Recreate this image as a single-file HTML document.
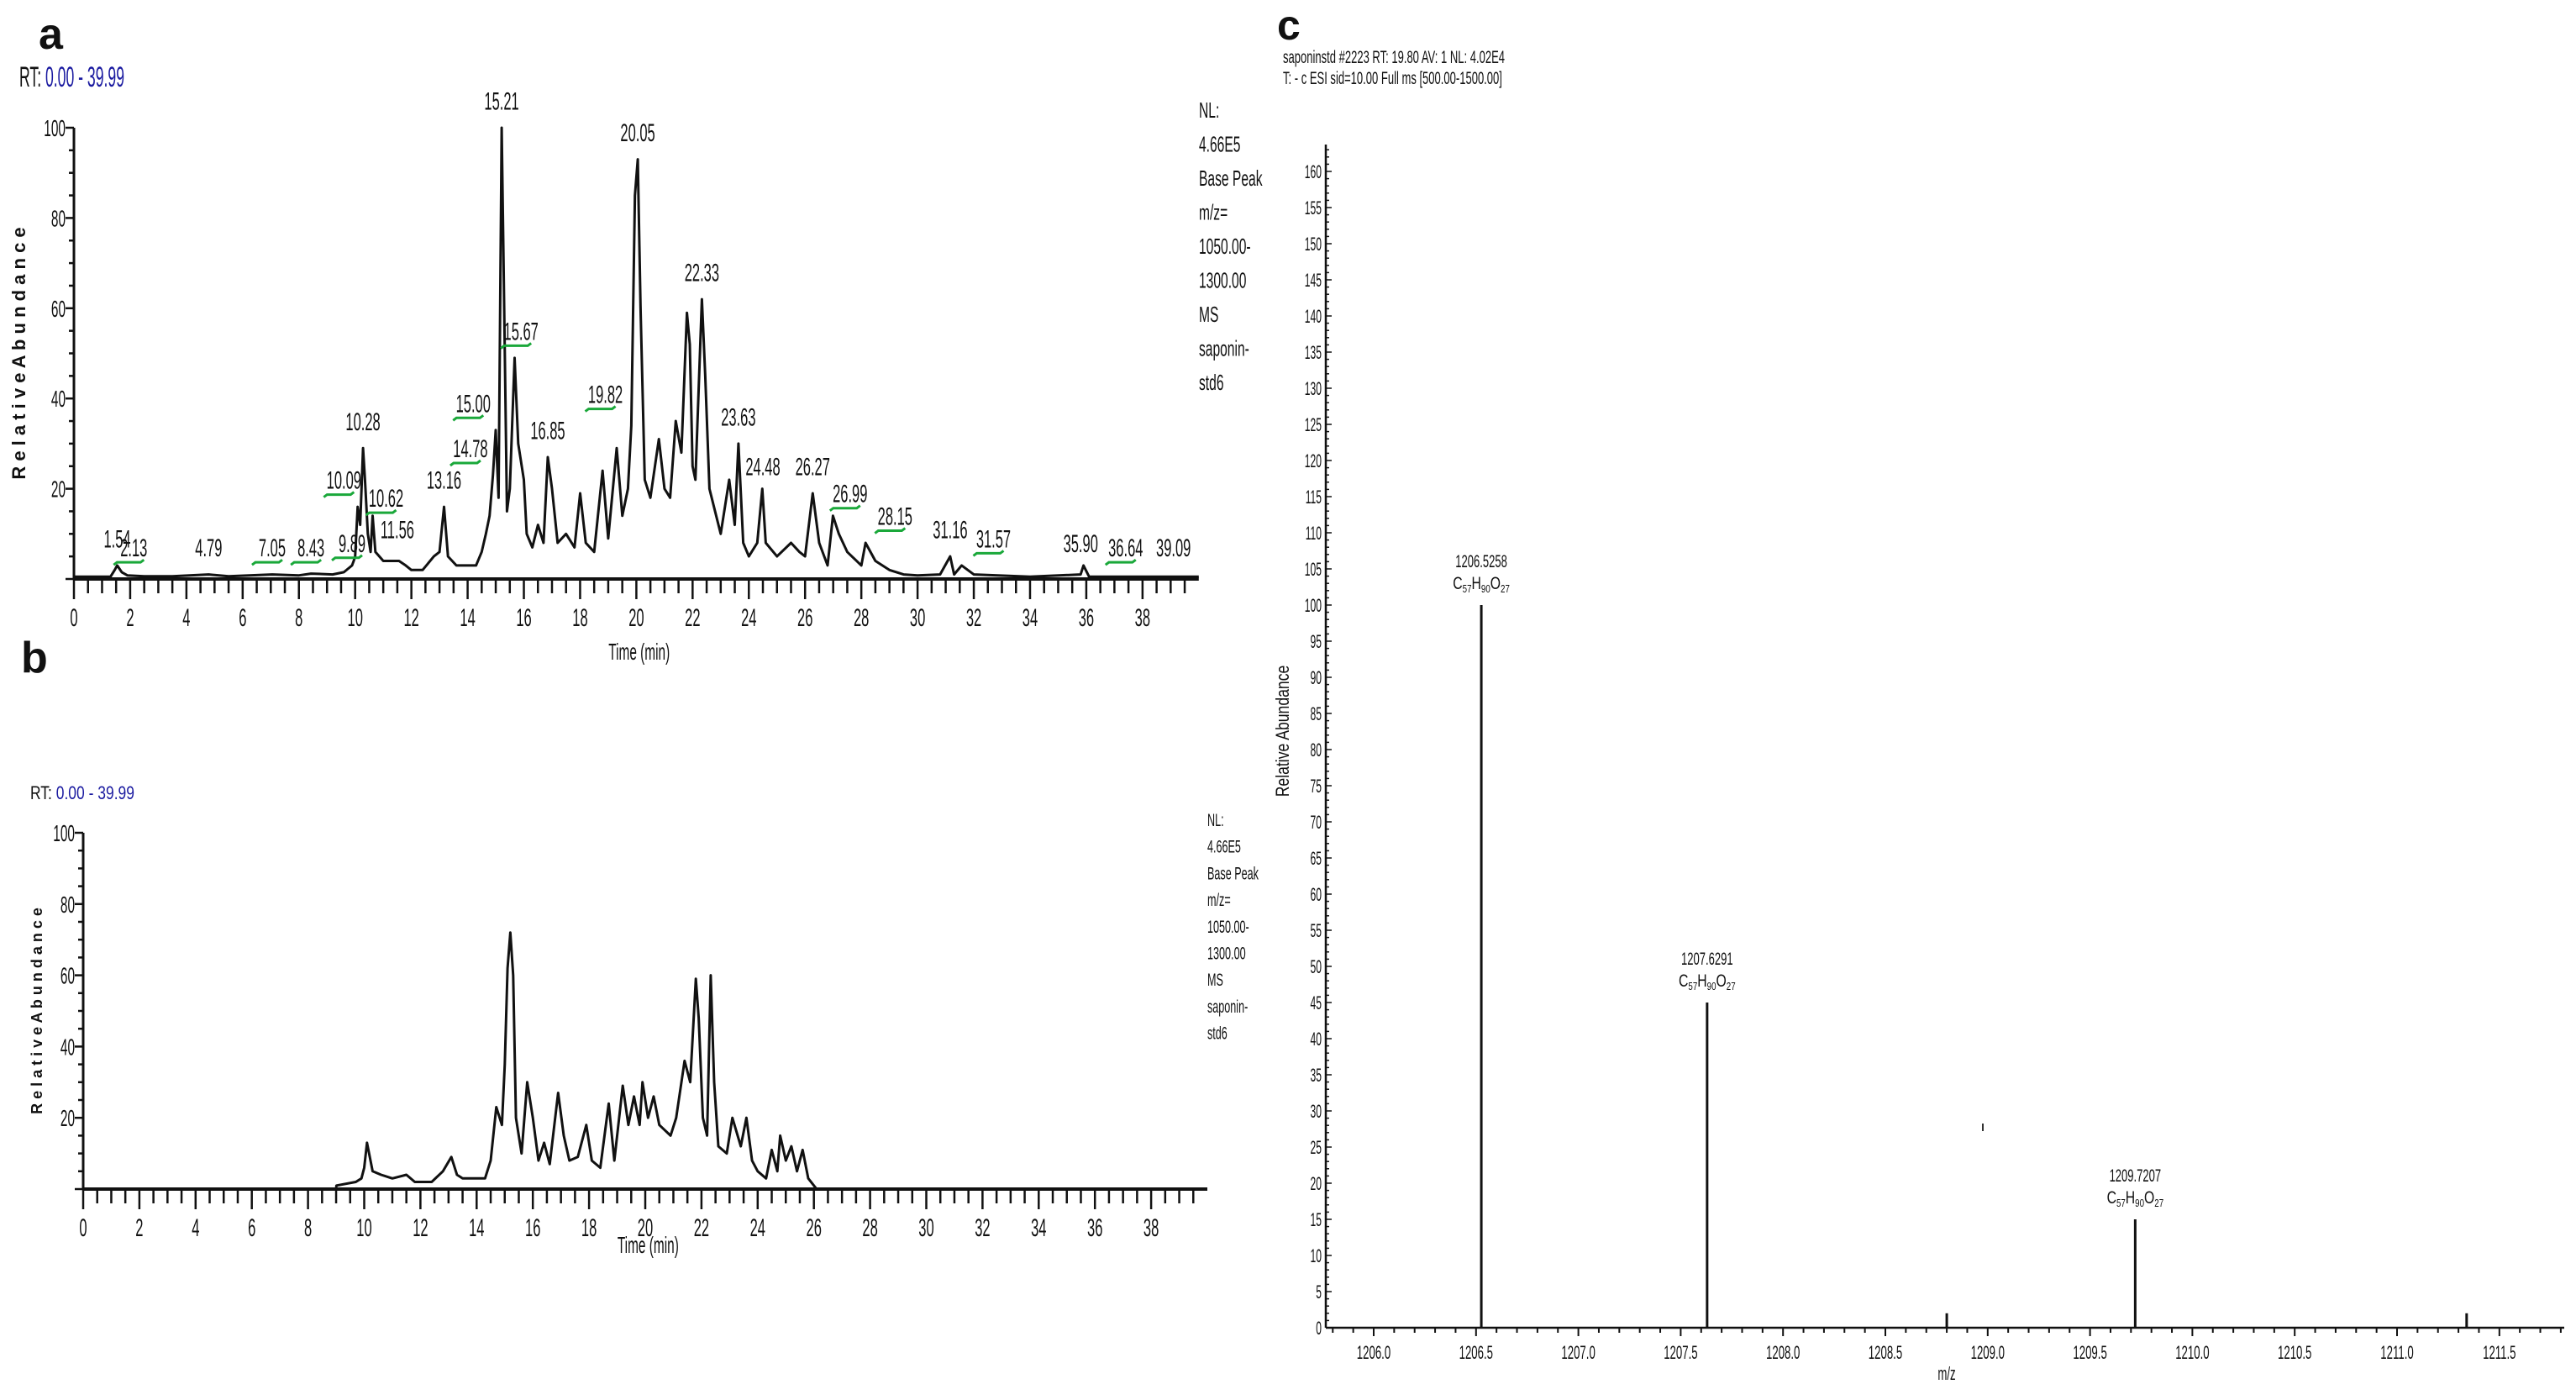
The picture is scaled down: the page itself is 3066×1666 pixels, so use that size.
<!DOCTYPE html>
<html><head><meta charset="utf-8"><style>
html,body{margin:0;padding:0;background:#fff;width:3066px;height:1666px;overflow:hidden}
svg{display:block}
text{font-family:"Liberation Sans Narrow","Liberation Sans",sans-serif;fill:#111}
</style></head><body>
<svg id="fig" width="3066" height="1666" viewBox="0 0 3066 1666" xmlns="http://www.w3.org/2000/svg">
<g id="pa"></g>
<g id="pb"></g>
<g id="pc"></g>
</svg>
<script>
// ---- Panel a data ----
const aTimes=[0,1.3,1.45,1.54,1.7,1.9,2.5,3.5,4.79,5.5,7.05,8.0,8.43,9.2,9.6,9.89,9.95,10.0,10.09,10.18,10.28,10.35,10.45,10.55,10.62,10.72,11.0,11.3,11.56,11.8,12.0,12.4,12.8,13.0,13.16,13.3,13.6,14.0,14.3,14.5,14.65,14.78,14.9,15.0,15.1,15.21,15.3,15.4,15.5,15.67,15.8,16.0,16.1,16.3,16.5,16.7,16.85,17.0,17.2,17.5,17.8,18.0,18.2,18.5,18.8,19.0,19.3,19.5,19.7,19.82,19.95,20.05,20.15,20.3,20.5,20.8,21.0,21.2,21.4,21.6,21.8,21.9,22.0,22.1,22.33,22.45,22.6,22.8,23.0,23.3,23.5,23.63,23.8,24.0,24.3,24.48,24.6,25.0,25.5,25.8,26.0,26.27,26.5,26.8,26.99,27.2,27.5,28.0,28.15,28.5,29.0,29.5,30.0,30.8,31.16,31.3,31.57,32.0,34.0,35.8,35.9,36.1,38,40];
const aValues=[0.5,0.5,2,3,1.5,0.8,0.6,0.6,1,0.6,1,0.8,1.2,1,1.5,3,4,5,16,12,29,22,10,6,14,6,4,4,4,3,2,2,5,6,16,5,3,3,3,6,10,14,23,33,18,100,60,15,20,49,30,22,10,7,12,8,27,20,8,10,7,19,8,6,24,9,29,14,20,34,85,93,60,22,18,31,20,18,35,28,59,52,25,22,62,45,20,15,10,22,12,30,8,5,8,20,8,5,8,6,5,19,8,3,14,10,6,3,8,4,2,1,0.8,1,5,1,3,1,0.5,1,3,0.5,0.5,0.5];
const aPeakLabels=["1.54","2.13","4.79","7.05","8.43","9.89","10.09","10.28","10.62","11.56","13.16","14.78","15.00","15.21","15.67","16.85","19.82","20.05","22.33","23.63","24.48","26.27","26.99","28.15","31.16","31.57","35.90","36.64","39.09"];
const aPeakLabelT=[1.54,2.13,4.79,7.05,8.43,9.89,9.6,10.28,11.1,11.5,13.16,14.1,14.2,15.21,15.9,16.85,18.9,20.05,22.33,23.63,24.5,26.27,27.6,29.2,31.16,32.7,35.8,37.4,39.1];
const aPeakLabelV=[7,5,5,5,5,6,20,33,16,9,20,27,37,104,53,31,39,97,66,34,23,23,17,12,9,7,6,5,5];
const aGreen=[0,1,0,1,1,1,1,0,1,0,0,1,1,0,1,0,1,0,0,0,0,0,1,1,0,1,0,1,0];
// ---- Panel b data ----
const bTimes=[0,9.0,9.01,9.7,9.9,10.0,10.1,10.3,10.6,11.0,11.5,11.8,12.4,12.8,13.1,13.3,13.5,14.3,14.5,14.7,14.9,15.0,15.1,15.2,15.3,15.4,15.6,15.8,16.0,16.2,16.4,16.6,16.9,17.1,17.3,17.6,17.9,18.1,18.4,18.7,18.9,19.2,19.4,19.6,19.8,19.9,20.1,20.3,20.5,20.9,21.1,21.4,21.6,21.8,21.9,22.05,22.2,22.33,22.45,22.6,22.9,23.1,23.4,23.6,23.8,24.0,24.3,24.5,24.7,24.8,25.0,25.2,25.4,25.6,25.8,26.0,26.1,40];
const bValues=[0,0,1,2,3,6,13,5,4,3,4,2,2,5,9,4,3,3,8,23,18,35,62,72,60,20,10,30,20,8,13,7,27,15,8,9,18,8,6,24,8,29,18,26,18,30,20,26,18,15,20,36,30,59,48,20,15,60,30,12,10,20,12,20,8,5,3,11,5,15,8,12,5,11,3,1,0,0];
// ---- Panel c data ----
const cMz=[1206.5258,1207.6291,1208.80,1209.7207,1211.34];
const cIntensity=[100,45,2,15,2];
const cMzLabels=["1206.5258","1207.6291",null,"1209.7207",null];
const cFormulaSub=[["57","90","27"],["57","90","27"],null,["57","90","27"],null];
const cXTicks=["1206.0","1206.5","1207.0","1207.5","1208.0","1208.5","1209.0","1209.5","1210.0","1210.5","1211.0","1211.5"];

const NS="http://www.w3.org/2000/svg";
function el(parent,tag,attrs){const e=document.createElementNS(NS,tag);for(const k in attrs)e.setAttribute(k,attrs[k]);parent.appendChild(e);return e;}
function txt(parent,x,y,s,size,anchor,cond,fill,weight){
  const t=el(parent,'text',{x:x,y:y,'font-size':size,'text-anchor':anchor||'start'});
  if(fill)t.setAttribute('fill',fill);
  if(weight)t.setAttribute('font-weight',weight);
  t.textContent=s;
  if(cond){const L=t.getComputedTextLength();if(L>0){t.setAttribute('textLength',(L*cond).toFixed(1));t.setAttribute('lengthAdjust','spacingAndGlyphs');}}
  return t;
}

function chrom(g,o){
  const X=t=>o.x0+t*o.sx, Y=v=>o.y0-v*o.sy;
  let a=el(g,'line',{x1:o.x0,y1:Y(0),x2:X(40),y2:Y(0),stroke:'#111','stroke-width':4});
  
  a=el(g,'line',{x1:o.x0,y1:Y(0),x2:o.x0,y2:Y(100),stroke:'#111','stroke-width':3});
  
  for(let t=0;t<=39.6;t+=0.5){const maj=Math.abs(t/2-Math.round(t/2))<1e-6;
    el(g,'line',{x1:X(t),y1:Y(0),x2:X(t),y2:Y(0)+(maj?24:17),stroke:'#111','stroke-width':2.5});
    if(maj){const l=txt(g,X(t),Y(0)+56,String(Math.round(t)),30,'middle',0.55);}}
  for(let v=0;v<=100;v+=5){const maj=v%20===0;
    el(g,'line',{x1:o.x0,y1:Y(v),x2:o.x0-(maj?10:6),y2:Y(v),stroke:'#111','stroke-width':2.5});
    if(maj&&v>0){const l=txt(g,o.x0-10,Y(v)+10,String(v),28,'end',0.55);}}
  let d='';o.t.forEach((t,i)=>{d+=(i?'L':'M')+X(t).toFixed(1)+','+Y(o.v[i]).toFixed(1);});
  const p=el(g,'path',{d:d,fill:'none',stroke:'#111','stroke-width':3,'stroke-linejoin':'round'});
  
  let yt=txt(g,0,0,'R e l a t i v e   A b u n d a n c e',o.ytSize,'middle',0,'#111','bold');
  yt.setAttribute('transform','translate('+o.ytx+','+((Y(0)+Y(100))/2)+') rotate(-90)');
  
  let xt=txt(g,X(20.1),o.xty,'Time (min)',28,'middle',0.55);
  
  const rt=el(g,'text',{x:o.rtx,y:o.rty,'font-size':o.rtSize});
  rt.innerHTML='RT: <tspan fill="#1a1aa0">0.00 - 39.99</tspan>';
  rt.setAttribute('textLength',o.rtw);rt.setAttribute('lengthAdjust','spacingAndGlyphs');
  const info=["NL:","4.66E5","Base Peak","m/z=","1050.00-","1300.00","MS","saponin-","std6"];
  info.forEach((s,i)=>{const l=txt(g,o.nlx,o.nly+i*o.nld,s,o.nlSize,'start',0.6);});
  return {X,Y};
}

// Panel a
const ga=document.getElementById('pa');
let lab=txt(ga,46,58,'a',52,'start',0,'#111','bold');
const A=chrom(ga,{x0:88,sx:33.47,y0:689,sy:5.37,t:aTimes,v:aValues,ytSize:22,ytx:30,xty:785,rtx:23,rty:103,rtSize:34,rtw:125,nlx:1427,nly:140,nld:40.5,nlSize:26});
aPeakLabels.forEach((s,i)=>{
  const x=A.X(aPeakLabelT[i]),y=A.Y(aPeakLabelV[i]);
  const l=txt(ga,x,y,s,30,'middle',0.55);
  if(aGreen[i]){const gl=el(ga,'path',{d:'M'+(x-24)+','+(y+10)+'l4,-3h'+28+'l4,-3',fill:'none',stroke:'#1aa83a','stroke-width':3});
    }
});
// Panel b
const gb=document.getElementById('pb');
lab=txt(gb,25,800,'b',52,'start',0,'#111','bold');
chrom(gb,{x0:99,sx:33.45,y0:1415,sy:4.24,t:bTimes,v:bValues,ytSize:18,ytx:50,xty:1491,rtx:36,rty:951,rtSize:22,rtw:124,nlx:1437,nly:983,nld:31.7,nlSize:21});

// Panel c
const gc=document.getElementById('pc');
lab=txt(gc,1520,47,'c',50,'start',0,'#111','bold');
let h=txt(gc,1527,75,'saponinstd #2223  RT: 19.80  AV: 1  NL: 4.02E4',21,'start',0.62,'#1a1a70');
h=txt(gc,1527,100,'T: - c ESI sid=10.00  Full ms [500.00-1500.00]',21,'start',0.62,'#1a1a70');
const cx0=1635,csx=243.6,cy0=1580,csy=8.6;
const CX=m=>cx0+(m-1206)*csx, CY=v=>cy0-v*csy;
let ax=el(gc,'line',{x1:1578,y1:cy0,x2:3052,y2:cy0,stroke:'#111','stroke-width':2.5});
ax=el(gc,'line',{x1:1578,y1:cy0,x2:1578,y2:172,stroke:'#111','stroke-width':2.5});
for(let m=1205.8;m<=1211.83;m+=0.1){const r=Math.round(m*10)/10;const maj=Math.abs(r*2-Math.round(r*2))<1e-6;
  el(gc,'line',{x1:CX(r),y1:cy0,x2:CX(r),y2:cy0+(maj?10:6),stroke:'#111','stroke-width':2});}
cXTicks.forEach((s,i)=>{const l=txt(gc,CX(parseFloat(s)),cy0+37,s,22,'middle',0.6);});
for(let v=0;v<=163;v+=1){const maj=v%5===0;
  el(gc,'line',{x1:1578,y1:CY(v),x2:1578+(maj?7:4),y2:CY(v),stroke:'#111','stroke-width':1.5});
  if(maj){const l=txt(gc,1573,CY(v)+8,String(v),22,'end',0.55);}}
let yt=txt(gc,0,0,'Relative Abundance',22,'middle',0.8);yt.setAttribute('transform','translate(1534,870) rotate(-90)');

let xt=txt(gc,2317,1642,'m/z',22,'middle',0.6);
cMz.forEach((m,i)=>{
  const s=el(gc,'line',{x1:CX(m),y1:cy0,x2:CX(m),y2:CY(cIntensity[i]),stroke:'#111','stroke-width':3});
  
  if(cMzLabels[i]){
    const l=txt(gc,CX(m),CY(cIntensity[i])-45,cMzLabels[i],21,'middle',0.62);
    const sub=cFormulaSub[i];
    const f=el(gc,'text',{x:CX(m),y:CY(cIntensity[i])-19,'font-size':21,'text-anchor':'middle'});
    
    f.innerHTML='C<tspan font-size="13" dy="4">'+sub[0]+'</tspan><tspan dy="-4">H</tspan><tspan font-size="13" dy="4">'+sub[1]+'</tspan><tspan dy="-4">O</tspan><tspan font-size="13" dy="4">'+sub[2]+'</tspan>';
    const L=f.getComputedTextLength();f.setAttribute('textLength',(L*0.75).toFixed(1));f.setAttribute('lengthAdjust','spacingAndGlyphs');
  }
});
const mk=el(gc,'line',{x1:2360,y1:1337,x2:2360,y2:1346,stroke:'#333','stroke-width':2});
</script>
</body></html>
